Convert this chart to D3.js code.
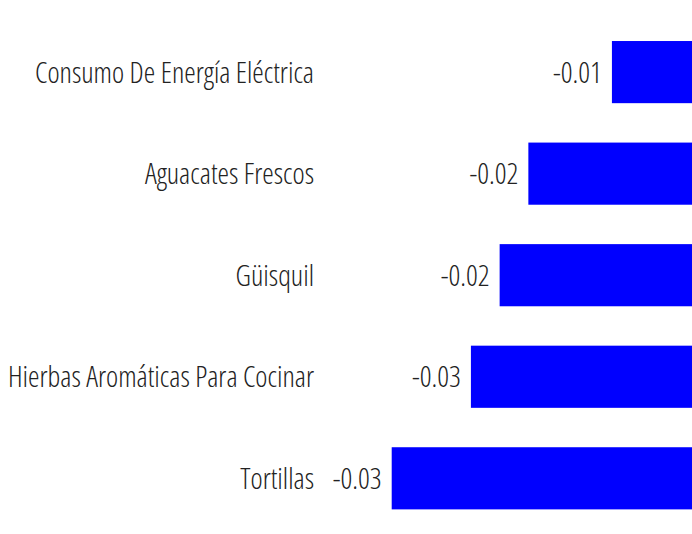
<!DOCTYPE html>
<html><head><meta charset="utf-8">
<script src="https://cdn.jsdelivr.net/npm/d3@7"></script>
<style>
html,body{margin:0;padding:0;background:#fff;}
text{font-family:"Open Sans",sans-serif;font-weight:300;font-stretch:75%;}
</style></head>
<body><svg id="c" width="692" height="534"></svg>
<script>
const categories = ["Consumo De Energía Eléctrica","Aguacates Frescos","Güisquil","Hierbas Aromáticas Para Cocinar","Tortillas"];
const values = [-0.0092,-0.0188,-0.0221,-0.0254,-0.0345];

const svg = d3.select("#c");
const x = d3.scaleLinear().domain([d3.min(values),0]).range([391.7,692]);
const y = d3.scaleBand().domain(categories).range([0.4,550]).paddingInner(0.388).paddingOuter(0.4);
const fmt = v => d3.format(".2f")(v).replace("\u2212","-");
const data = categories.map((c,i)=>({c,v:values[i]}));

svg.selectAll("rect.bar").data(data).join("rect").attr("class","bar")
  .attr("x",d=>x(d.v)).attr("y",d=>y(d.c))
  .attr("width",d=>x(0)-x(d.v)).attr("height",y.bandwidth())
  .attr("fill","#0000ff");

svg.selectAll("text.val").data(data).join("text").attr("class","val")
  .attr("x",d=>x(d.v)-10).attr("y",d=>y(d.c)+y.bandwidth()/2)
  .attr("dy","0.36em").attr("text-anchor","end")
  .attr("font-size",29).attr("fill","#222")
  .text(d=>fmt(d.v));

svg.selectAll("text.cat").data(data).join("text").attr("class","cat")
  .attr("x",314).attr("y",d=>y(d.c)+y.bandwidth()/2)
  .attr("dy","0.36em").attr("text-anchor","end")
  .attr("font-size",29).attr("fill","#222")
  .text(d=>d.c);
</script></body></html>
